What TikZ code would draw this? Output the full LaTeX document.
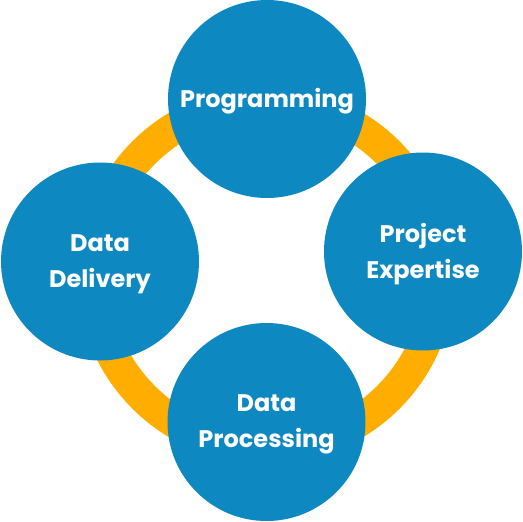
\documentclass[tikz,border=0pt]{standalone}
\usepackage{fontspec}
\setmainfont{Poppins}
\definecolor{ringorange}{HTML}{FFAE00}
\definecolor{topicblue}{HTML}{0E88C1}
\begin{document}
\begin{tikzpicture}[x=1pt,y=-1pt,
  topic/.style={circle, fill=topicblue, minimum size=198pt, inner sep=0pt,
    text=white, align=center, font=\fontsize{24}{36}\selectfont\bfseries},
  topictext/.style={text=white, align=center, inner sep=0pt, yshift=-2.5pt,
    font=\fontsize{24}{36}\selectfont\bfseries}]
\useasboundingbox (0,0) rectangle (523,522);
\coordinate (ringc) at (266,275);
\draw[ringorange, line width=32pt] (ringc) circle[radius=173pt];
\node[topic] (prog) at (267,99) {};
\node[topic] (proj) at (423,251.5) {};
\node[topic] (deliv) at (100,261.5) {};
\node[topic] (proc) at (266.5,422) {};
\node[topictext] (progt) at (prog) {Programming};
\node[topictext] (projt) at (proj) {Project\\Expertise};
\node[topictext] (delivt) at (deliv) {Data\\Delivery};
\node[topictext] (proct) at (proc) {Data\\Processing};
\end{tikzpicture}
\end{document}
